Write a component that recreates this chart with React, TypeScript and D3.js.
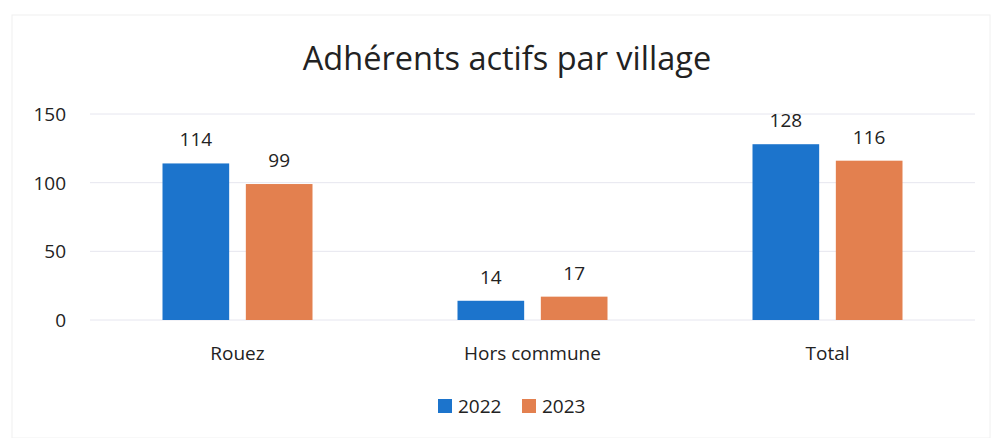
import React from "react";
import * as d3 from "d3";

const categories = ["Rouez", "Hors commune", "Total"];
const seriesNames = ["2022", "2023"];
const values2022 = [114, 14, 128];
const values2023 = [99, 17, 116];
const yTicks = [0, 50, 100, 150];
const colors = ["#1c74cc", "#e3804f"];
const title = "Adhérents actifs par village";

export default function App() {
  const W = 992, H = 438;
  const left = 90, right = 975, top = 114, bottom = 320;
  const font = "'Open Sans', 'Liberation Sans', sans-serif";
  const x0 = d3.scaleBand<string>().domain(categories).range([left, right]).paddingInner(0).paddingOuter(0);
  const x1 = d3.scaleBand<string>().domain(seriesNames).range([0, 150]).paddingInner(0.2).paddingOuter(0);
  const y = d3.scaleLinear().domain([0, 150]).range([bottom, top]);
  const series = [values2022, values2023];
  const groupOffset = (x0.bandwidth() - 150) / 2;
  return (
    <svg width={W} height={H} style={{ position: "absolute", left: 0, top: 0, background: "#fff" }}>
      <rect x={12} y={15} width={W - 14} height={H - 15} fill="none" stroke="#f0f0f0" />
      <text x={507} y={70} textAnchor="middle" fontFamily={font} fontSize={32.5} fill="#222">{title}</text>
      {yTicks.map((t) => (
        <g key={t}>
          <line x1={left} x2={right} y1={y(t)} y2={y(t)} stroke="#e6e6ef" strokeWidth={1} />
          <text x={66} y={y(t) + 7} textAnchor="end" fontFamily={font} fontSize={19} fill="#222">{t}</text>
        </g>
      ))}
      {categories.map((c, i) => (
        <g key={c}>
          {seriesNames.map((s, j) => {
            const bx = (x0(c) as number) + groupOffset + (x1(s) as number);
            const v = series[j][i];
            return (
              <g key={s}>
                <rect x={bx} y={y(v)} width={x1.bandwidth()} height={y(0) - y(v)} fill={colors[j]} />
                <text x={bx + x1.bandwidth() / 2} y={y(v) - 17} textAnchor="middle" fontFamily={font} fontSize={19} fill="#222">{v}</text>
              </g>
            );
          })}
          <text x={(x0(c) as number) + x0.bandwidth() / 2} y={y(0) + 40} textAnchor="middle" fontFamily={font} fontSize={19} fill="#222">{c}</text>
        </g>
      ))}
      {seriesNames.map((s, j) => {
        const lx = 438 + j * 84;
        return (
          <g key={s}>
            <rect x={lx} y={399} width={14} height={14} fill={colors[j]} />
            <text x={lx + 20} y={413} fontFamily={font} fontSize={19} fill="#222">{s}</text>
          </g>
        );
      })}
    </svg>
  );
}
